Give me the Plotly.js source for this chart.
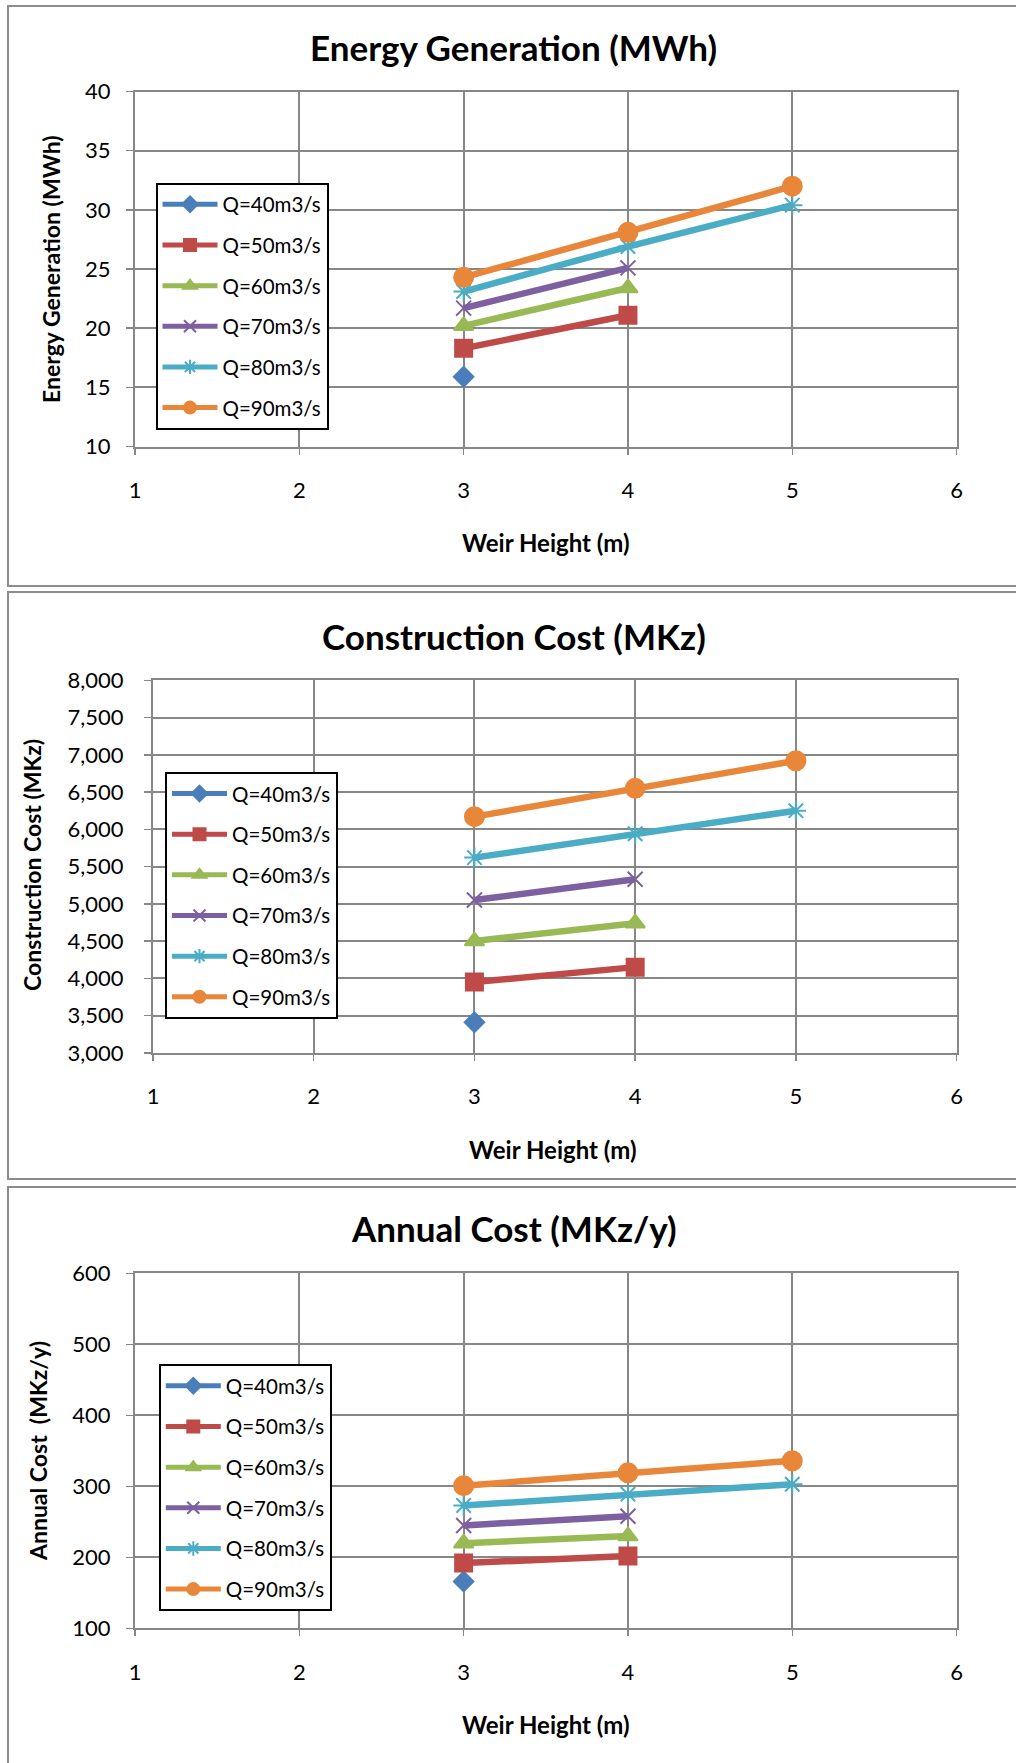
<!DOCTYPE html>
<html>
<head>
<meta charset="utf-8">
<script src="https://cdn.plot.ly/plotly-3.0.1.min.js"></script>
<style>
  html, body { margin: 0; padding: 0; background: #ffffff; }
  #chart { width: 1016px; height: 1763px; }
</style>
</head>
<body>
<div id="chart"></div>
<script>
// Weir heights (m) on the x axis
const weirHeight = [3, 4, 5];

// Series names (design discharge)
const seriesNames = ['Q=40m3/s', 'Q=50m3/s', 'Q=60m3/s', 'Q=70m3/s', 'Q=80m3/s', 'Q=90m3/s'];

// Energy generation (MWh) per discharge
const energyQ40 = [15.9];
const energyQ50 = [18.3, 21.1];
const energyQ60 = [20.2, 23.4];
const energyQ70 = [21.7, 25.1];
const energyQ80 = [23.1, 26.9, 30.4];
const energyQ90 = [24.3, 28.1, 32.0];

// Construction cost (MKz) per discharge
const costQ40 = [3410];
const costQ50 = [3950, 4150];
const costQ60 = [4500, 4740];
const costQ70 = [5050, 5330];
const costQ80 = [5620, 5940, 6250];
const costQ90 = [6170, 6550, 6920];

// Annual cost (MKz/y) per discharge
const annualQ40 = [166];
const annualQ50 = [192, 202];
const annualQ60 = [220, 230];
const annualQ70 = [245, 258];
const annualQ80 = [273, 289, 303];
const annualQ90 = [301, 319, 336];

// Axis tick values
const xTicks = [1, 2, 3, 4, 5, 6];
const energyTicks = [10, 15, 20, 25, 30, 35, 40];
const costTicks = [3000, 3500, 4000, 4500, 5000, 5500, 6000, 6500, 7000, 7500, 8000];
const annualTicks = [100, 200, 300, 400, 500, 600];

// Titles
const panelTitles = ['Energy Generation (MWh)', 'Construction Cost (MKz)', 'Annual Cost (MKz/y)'];
const yTitles = ['Energy Generation (MWh)', 'Construction Cost (MKz)', 'Annual Cost  (MKz/y)'];
const xTitle = 'Weir Height (m)';

// ---- styling ----
const W = 1016, H = 1763;
const colors = ['#4A7EBB', '#BE4B48', '#98B954', '#7D60A0', '#4BACC6', '#E8873A'];
const markerDefs = [
  {symbol: 'diamond', size: 15},
  {symbol: 'square', size: 17},
  {symbol: 'triangle-up', size: 17},
  {symbol: 'x-thin-open', size: 15},
  {symbol: 'asterisk-open', size: 17},
  {symbol: 'circle', size: 19}
];
const FONT = 'Lato, "Open Sans", sans-serif';
const gridColor = '#878787';

const px = v => v / W;          // x pixel -> paper
const py = v => 1 - v / H;      // y pixel (from top) -> paper

// plot-area boxes and decoration positions, in page pixels
const panels = [
  {x0: 135, x1: 956.6, top: 91.5, bottom: 446.6, yr: [10, 40], ticks: energyTicks, fmt: '', ystand: 11,
   title: [513, 47], xt: [546, 542], yt: [51, 269],
   legend: [155.5, 182.5], box: [8, 6, 1030, 586]},
  {x0: 153, x1: 956.6, top: 680.3, bottom: 1052.8, yr: [3000, 8000], ticks: costTicks, fmt: ',', ystand: 16,
   title: [514, 636], xt: [553, 1149], yt: [32, 865],
   legend: [165, 771.7], box: [8, 592, 1030, 1179]},
  {x0: 135, x1: 956.6, top: 1273.3, bottom: 1628.4, yr: [100, 600], ticks: annualTicks, fmt: '', ystand: 11,
   title: [514, 1228], xt: [546, 1724], yt: [38, 1451],
   legend: [158.8, 1364], box: [8, 1187, 1030, 1790]}
];

const datasets = [
  [energyQ40, energyQ50, energyQ60, energyQ70, energyQ80, energyQ90],
  [costQ40, costQ50, costQ60, costQ70, costQ80, costQ90],
  [annualQ40, annualQ50, annualQ60, annualQ70, annualQ80, annualQ90]
];

const traces = [];
const layout = {
  width: W, height: H,
  margin: {l: 0, r: 0, t: 0, b: 0},
  paper_bgcolor: '#ffffff',
  plot_bgcolor: '#ffffff',
  font: {family: FONT, color: '#000000'},
  showlegend: true,
  annotations: [],
  shapes: []
};

panels.forEach((p, i) => {
  const n = i === 0 ? '' : String(i + 1);
  const xa = 'x' + n, ya = 'y' + n;
  const legName = 'legend' + n;

  datasets[i].forEach((vals, k) => {
    traces.push({
      type: 'scatter',
      mode: 'lines+markers',
      name: seriesNames[k],
      x: weirHeight.slice(0, vals.length),
      y: vals,
      xaxis: xa, yaxis: ya,
      legend: legName,
      legendgroup: 'g' + i + '_' + k,
      line: {color: colors[k], width: 6.5},
      marker: {
        symbol: markerDefs[k].symbol,
        size: markerDefs[k].size,
        color: colors[k],
        line: {color: colors[k], width: 2}
      },
      cliponaxis: false
    });
  });

  layout['xaxis' + n] = {
    domain: [px(p.x0), px(p.x1)],
    anchor: ya,
    range: [1, 6],
    tickvals: xTicks,
    showgrid: true, gridcolor: gridColor, gridwidth: 2,
    showline: true, linecolor: gridColor, linewidth: 2, mirror: true,
    ticks: 'outside', ticklen: 6, tickwidth: 1.5, tickcolor: gridColor,
    tickfont: {family: FONT, size: 22, color: '#000'},
    ticklabelstandoff: 17,
    zeroline: false, fixedrange: true
  };
  layout['yaxis' + n] = {
    domain: [py(p.bottom), py(p.top)],
    anchor: xa,
    range: p.yr,
    tickvals: p.ticks,
    tickformat: p.fmt,
    showgrid: true, gridcolor: gridColor, gridwidth: 2,
    showline: true, linecolor: gridColor, linewidth: 2, mirror: true,
    ticks: 'outside', ticklen: 7, tickwidth: 1.5, tickcolor: gridColor,
    tickfont: {family: FONT, size: 22, color: '#000'},
    ticklabelstandoff: p.ystand,
    zeroline: false, fixedrange: true
  };

  layout[legName] = {
    x: px(p.legend[0]), y: py(p.legend[1]),
    xref: 'paper', yref: 'paper',
    xanchor: 'left', yanchor: 'top',
    bgcolor: '#ffffff',
    bordercolor: '#000000', borderwidth: 2,
    font: {family: FONT, size: 20.5, color: '#000'},
    traceorder: 'grouped',
    tracegroupgap: 11,
    itemwidth: 55,
    itemsizing: 'constant'
  };

  // panel frame
  layout.shapes.push({
    type: 'rect', xref: 'paper', yref: 'paper',
    x0: px(p.box[0]), x1: px(p.box[2]), y0: py(p.box[3]), y1: py(p.box[1]),
    line: {color: '#8c8c8c', width: 2}, fillcolor: 'rgba(0,0,0,0)', layer: 'below'
  });

  // panel title
  layout.annotations.push({
    text: '<b>' + panelTitles[i] + '</b>',
    xref: 'paper', yref: 'paper', x: px(p.title[0]), y: py(p.title[1]),
    xanchor: 'center', yanchor: 'middle', showarrow: false,
    font: {family: FONT, size: 35, color: '#000'}
  });
  // x axis title
  layout.annotations.push({
    text: '<b>' + xTitle + '</b>',
    xref: 'paper', yref: 'paper', x: px(p.xt[0]), y: py(p.xt[1]),
    xanchor: 'center', yanchor: 'middle', showarrow: false,
    font: {family: FONT, size: 24, color: '#000'}
  });
  // y axis title
  layout.annotations.push({
    text: '<b>' + yTitles[i] + '</b>',
    xref: 'paper', yref: 'paper', x: px(p.yt[0]), y: py(p.yt[1]),
    xanchor: 'center', yanchor: 'middle', showarrow: false, textangle: -90,
    font: {family: FONT, size: 23, color: '#000'}
  });
});

Plotly.newPlot('chart', traces, layout, {staticPlot: true, displayModeBar: false});
</script>
</body>
</html>
